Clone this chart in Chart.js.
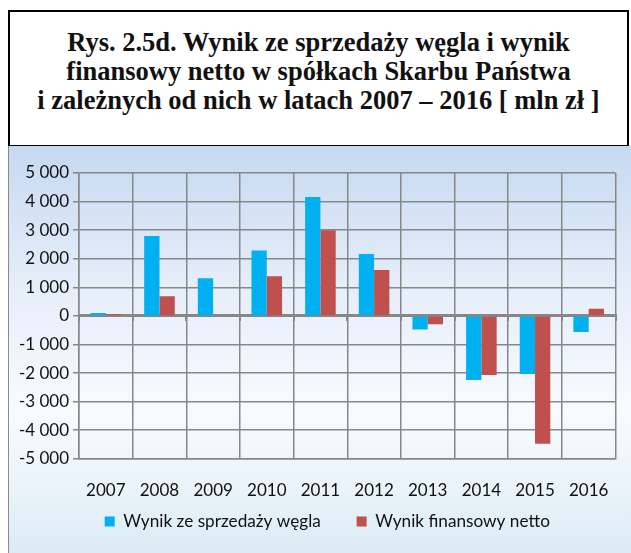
<!DOCTYPE html>
<html>
<head>
<meta charset="utf-8">
<script src="https://cdn.jsdelivr.net/npm/chart.js@4/dist/chart.umd.min.js"></script>
<style>
  body { margin: 0; background: #fff; width: 631px; height: 553px; overflow: hidden; position: relative; }
  #title {
    position: absolute; left: 8px; top: 10px; width: 617px; height: 133px;
    border: 2px solid #000; box-sizing: content-box;
    font-family: "Liberation Serif", serif; font-weight: bold; font-size: 26.5px;
    line-height: 29px; text-align: center; color: #111;
  }
  #title div { padding-top: 16px; }
  #panel {
    position: absolute; left: 8px; top: 146px; width: 623px; height: 407px;
    border-left: 1px solid #8a8a8a;
    background: linear-gradient(to bottom, #c6d9f1 0%, #e6eef9 35%, #f8fbff 65%, #e9f3f9 85%, #dbebf4 100%);
  }
  #wrap { position: absolute; left: 0; top: 0; width: 622px; height: 407px; }
</style>
</head>
<body>
<div id="title"><div>Rys. 2.5d. Wynik ze sprzedaży węgla i wynik<br>finansowy netto w spółkach Skarbu Państwa<br>i zależnych od nich w latach 2007 – 2016 [ mln zł ]</div></div>
<div id="panel"><div id="wrap"><canvas id="myChart"></canvas></div></div>
<script>
const years = ['2007', '2008', '2009', '2010', '2011', '2012', '2013', '2014', '2015', '2016'];
const salesResult = [100, 2800, 1320, 2290, 4160, 2170, -480, -2240, -2030, -560];
const netResult = [70, 690, 0, 1390, 3000, 1610, -290, -2070, -4470, 250];
const seriesNames = ['Wynik ze sprzedaży węgla', 'Wynik finansowy netto'];

const gridColor = '#878787';
const fontFamily = 'Lato, "Open Sans", sans-serif';

const formatThousands = (v) => {
    const s = Math.abs(v).toString().replace(/\B(?=(\d{3})+(?!\d))/g, ' ');
    return (v < 0 ? '-' : '') + s;
};

const data = {
    labels: years,
    datasets: [
        { label: seriesNames[0], data: salesResult, backgroundColor: '#00b0f0' },
        { label: seriesNames[1], data: netResult, backgroundColor: '#c0504d' },
    ],
};

// wider gap between legend items than labels.padding gives
const legendLabels = (chart) => {
    const items = Chart.defaults.plugins.legend.labels.generateLabels(chart);
    items[0].text = items[0].text + '\u2002\u2002\u2002';
    return items;
};

// centre the legend under the plot area, not under the whole canvas
const legendUnderPlot = {
    id: 'legendUnderPlot',
    afterLayout(chart) {
        const lg = chart.legend;
        const shift = (chart.chartArea.left + chart.chartArea.right) / 2 - (lg.left + lg.right) / 2;
        lg.left += shift * 0.4;
        lg.right += shift * 0.4;
    },
};

const config = {
    type: 'bar',
    data: data,
    plugins: [legendUnderPlot],
    options: {
        responsive: true,
        maintainAspectRatio: false,
        animation: false,
        categoryPercentage: 0.57,
        barPercentage: 1.0,
        layout: { padding: { top: 27, right: 12, left: 0, bottom: 13 } },
        plugins: {
            legend: {
                position: 'bottom',
                labels: {
                    boxWidth: 10, boxHeight: 10, padding: 10,
                    color: '#111', font: { family: fontFamily, size: 17.2 },
                    generateLabels: legendLabels,
                },
            },
            tooltip: { enabled: false },
        },
        scales: {
            x: {
                grid: { color: gridColor, lineWidth: 1.5, drawTicks: false },
                border: { color: gridColor, width: 1.5 },
                ticks: { color: '#111', padding: 22, font: { family: fontFamily, size: 17 } },
                afterFit: (scale) => { scale.height = 44; },
            },
            x2: {
                type: 'category',
                position: { y: 0 },
                offset: true,
                grid: { drawOnChartArea: false, color: gridColor, lineWidth: 2, tickLength: 4 },
                border: { color: gridColor, width: 3 },
                ticks: { display: false },
            },
            y: {
                min: -5000,
                max: 5000,
                ticks: {
                    stepSize: 1000, color: '#111', padding: 4,
                    font: { family: fontFamily, size: 17 },
                    callback: (v) => formatThousands(v),
                },
                grid: { color: gridColor, lineWidth: 1.5, tickLength: 6 },
                border: { color: gridColor, width: 1.5 },
                afterFit: (scale) => { scale.width = 70; },
            },
        },
    },
};

new Chart(document.getElementById('myChart'), config);
</script>
</body>
</html>
